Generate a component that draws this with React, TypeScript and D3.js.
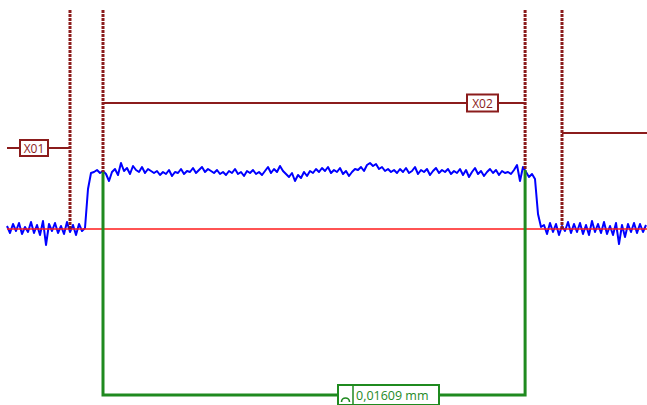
import React from "react";
import * as d3 from "d3";

// profile trace: height above the baseline, one sample every 3 units
const leftBase = [3, -4, 5, -2, 6, -5, 2, -3, 7, -4, 4, -6, 8, -16, 5, -2, 6, -4, 3, -5, 7, -3, 4, -6, 5, -2];
const riseEdge = [1, 40, 56];
const plateau = [
  57, 59, 56, 58, 55, 48, 57, 60, 54, 66, 58, 61, 55, 63, 59, 57, 62, 56, 60, 58,
  56, 58, 54, 57, 55, 59, 53, 57, 56, 60, 55, 58, 57, 61, 56, 59, 62, 57, 60, 58,
  56, 59, 55, 57, 54, 58, 56, 60, 55, 57, 53, 58, 56, 59, 55, 57, 54, 58, 62, 56,
  60, 57, 63, 58, 55, 52, 56, 48, 54, 51, 57, 53, 58, 56, 60, 57, 61, 58, 62, 56,
  59, 57, 61, 55, 58, 53, 57, 60, 59, 62, 58, 64, 66, 63, 65, 60, 62, 58, 60, 57,
  59, 56, 60, 57, 61, 56, 58, 62, 55, 59, 57, 60, 54, 58, 61, 56, 59, 57, 60, 55,
  58, 56, 60, 54, 59, 52, 57, 61, 55, 58, 53, 57, 60, 56, 59, 54, 58, 56, 57, 55,
  59, 64, 48, 62, 57, 52, 55,
];
const fallEdge = [50, 15, 2];
const rightBase = [4, -5, 6, -3, 5, -6, 3, -2, 7, -4, 5, -3, 6, -5, 4, -6, 8, -3, 5, -4, 7, -5, 3, -6, 6, -15, 4, -8, 5, -3, 6, -4, 5, -3, 4];

const trace = [...leftBase, ...riseEdge, ...plateau, ...fallEdge, ...rightBase];

// cursor positions (sample index) and where each one meets the trace
const cursorX = [21, 32, 172.7, 185];
const cursorEnd = [0, 57, 59, 0];
const cursorTop = 219;

const labelX01 = "X01";
const labelX02 = "X02";
const measureText = "0,01609 mm";
const levelX01 = 81;
const levelX02 = 126;
const levelRight = 96;
const levelMeasure = -166;

const W = 647;
const H = 405;
const maroon = "#8b1c1c";
const green = "#1f8a1f";

export default function App() {
  const x = d3.scaleLinear().domain([0, trace.length - 1]).range([7, 646]);
  const y = d3.scaleLinear().domain([0, 100]).range([229, 129]);

  const line = d3
    .line<number>()
    .x((d, i) => x(i))
    .y((d) => y(d));

  const x1 = x(cursorX[0]);
  const x2 = x(cursorX[1]);
  const x3 = x(cursorX[2]);
  const x4 = x(cursorX[3]);
  const yM = y(levelMeasure);

  const font = "'Open Sans', 'DejaVu Sans', sans-serif";

  return (
    <svg
      width={W}
      height={H}
      style={{ position: "fixed", left: 0, top: 0, background: "#fff" }}
    >
      {/* profile */}
      <path d={line(trace) || ""} fill="none" stroke="#0000ff" strokeWidth={2} strokeLinejoin="round" />
      {/* reference level */}
      <line x1={7} x2={W} y1={y(0)} y2={y(0)} stroke="#ff1a1a" strokeWidth={1.3} />

      {/* dotted cursors */}
      {cursorX.map((c, i) => (
        <line
          key={i}
          x1={x(c)}
          x2={x(c)}
          y1={y(cursorTop)}
          y2={y(cursorEnd[i])}
          stroke={maroon}
          strokeWidth={3}
          strokeDasharray="3,1"
        />
      ))}

      {/* X01 */}
      <line x1={7} x2={x1} y1={y(levelX01)} y2={y(levelX01)} stroke={maroon} strokeWidth={2} />
      <rect x={20} y={y(levelX01) - 8} width={28} height={16} fill="#fff" stroke={maroon} strokeWidth={2} />
      <text x={34} y={y(levelX01) + 4.5} textAnchor="middle" fontSize={12} fontFamily={font} fill={maroon}>
        {labelX01}
      </text>

      {/* X02 */}
      <line x1={x2} x2={x3} y1={y(levelX02)} y2={y(levelX02)} stroke={maroon} strokeWidth={2} />
      <rect x={467} y={y(levelX02) - 8.5} width={31} height={17} fill="#fff" stroke={maroon} strokeWidth={2} />
      <text x={482.5} y={y(levelX02) + 4.5} textAnchor="middle" fontSize={12} fontFamily={font} fill={maroon}>
        {labelX02}
      </text>

      {/* right cursor arm */}
      <line x1={x4} x2={W} y1={y(levelRight)} y2={y(levelRight)} stroke={maroon} strokeWidth={2} />

      {/* width measurement */}
      <path
        d={`M${x2},${y(cursorEnd[1])}V${yM}H${x3}V${y(cursorEnd[2])}`}
        fill="none"
        stroke={green}
        strokeWidth={3}
      />
      <rect x={338} y={yM - 10} width={101} height={20} fill="#fff" stroke={green} strokeWidth={2} />
      <line x1={353} x2={353} y1={yM - 10} y2={yM + 10} stroke={green} strokeWidth={1.5} />
      <path
        d={`M341.5,${yM + 7}A4,4 0 1 1 349.5,${yM + 7}`}
        fill="none"
        stroke={green}
        strokeWidth={1.6}
      />
      <text x={356} y={yM + 4.5} fontSize={12.5} fontFamily={font} fill={green}>
        {measureText}
      </text>
    </svg>
  );
}
